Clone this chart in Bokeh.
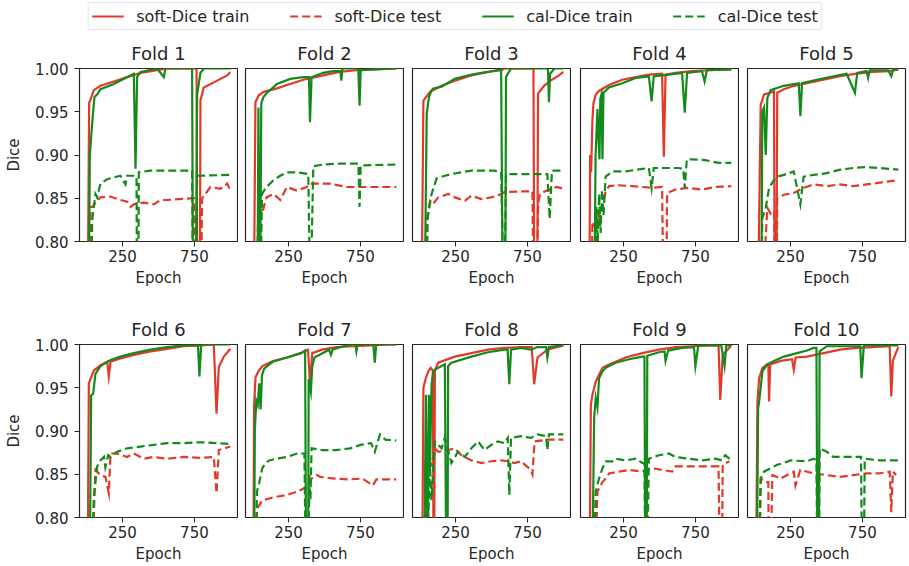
from bokeh.plotting import figure
from bokeh.layouts import row, column
from bokeh.models import Range1d, FixedTicker, NumeralTickFormatter, ColumnDataSource
from bokeh.embed import file_html
from bokeh.resources import INLINE

# ---------------- data (epoch, Dice) ----------------
series_names = ["soft-Dice train", "soft-Dice test", "cal-Dice train", "cal-Dice test"]
fold_titles = ["Fold 1", "Fold 2", "Fold 3", "Fold 4", "Fold 5",
               "Fold 6", "Fold 7", "Fold 8", "Fold 9", "Fold 10"]
x_ticks = [250, 750]
y_ticks = [0.80, 0.85, 0.90, 0.95, 1.00]

f1_soft_train = [(0, 0.55), (17, 0.96), (50, 0.975), (96, 0.98), (189, 0.985), (282, 0.99), (375, 0.995), (491, 0.998), (560, 1.0), (765, 1.0), (772, 0.6), (785, 0.6), (792, 0.963), (815, 0.978), (908, 0.986), (978, 0.992), (1000, 0.996)]
f1_soft_test = [(22, 0.7), (27, 0.84), (38, 0.84), (96, 0.851), (166, 0.852), (235, 0.848), (282, 0.846), (305, 0.84), (328, 0.843), (398, 0.845), (468, 0.843), (514, 0.848), (560, 0.848), (746, 0.85), (769, 0.7), (792, 0.7), (804, 0.85), (862, 0.863), (932, 0.861), (978, 0.867), (1000, 0.859)]
f1_cal_train = [(8, 0.6), (22, 0.90), (38, 0.936), (54, 0.967), (73, 0.97), (96, 0.976), (189, 0.982), (328, 0.994), (340, 0.884), (351, 0.99), (375, 0.996), (491, 1.0), (537, 0.99), (549, 1.0), (734, 1.0), (741, 0.7), (758, 0.7), (769, 0.97), (792, 0.995), (816, 1.0), (1000, 1.0)]
f1_cal_test = [(27, 0.7), (38, 0.824), (61, 0.855), (73, 0.851), (96, 0.867), (143, 0.872), (189, 0.874), (235, 0.876), (270, 0.866), (282, 0.876), (328, 0.876), (347, 0.875), (351, 0.7), (358, 0.7), (363, 0.88), (444, 0.882), (734, 0.882), (741, 0.7), (758, 0.7), (769, 0.876), (1000, 0.877)]

f2_soft_train = [(0, 0.55), (19, 0.961), (42, 0.969), (77, 0.973), (169, 0.977), (261, 0.982), (353, 0.987), (491, 0.992), (606, 0.996), (721, 0.998), (836, 0.999), (1000, 1.0)]
f2_soft_test = [(19, 0.7), (40, 0.84), (65, 0.832), (96, 0.851), (146, 0.855), (192, 0.848), (238, 0.863), (307, 0.859), (376, 0.863), (399, 0.867), (537, 0.867), (652, 0.863), (767, 0.863), (1000, 0.863)]
f2_cal_train = [(30, 0.6), (40, 0.955), (50, 0.7), (60, 0.96), (75, 0.967), (100, 0.972), (169, 0.982), (261, 0.988), (353, 0.99), (392, 0.99), (399, 0.938), (410, 0.99), (491, 0.995), (560, 0.997), (610, 0.997), (617, 0.986), (625, 1.0), (735, 1.0), (744, 0.957), (752, 0.998), (1000, 1.0)]
f2_cal_test = [(50, 0.7), (65, 0.855), (96, 0.863), (146, 0.871), (192, 0.876), (238, 0.88), (307, 0.88), (387, 0.878), (399, 0.75), (405, 0.75), (422, 0.887), (491, 0.889), (606, 0.89), (736, 0.89), (744, 0.84), (752, 0.888), (1000, 0.889)]

f3_soft_train = [(3, 0.55), (26, 0.963), (72, 0.973), (152, 0.98), (245, 0.986), (360, 0.992), (475, 0.996), (567, 0.998), (590, 1.0), (792, 1.0), (801, 0.6), (815, 0.6), (824, 0.971), (866, 0.98), (912, 0.986), (970, 0.992), (1000, 0.996)]
f3_soft_test = [(26, 0.7), (49, 0.824), (72, 0.847), (95, 0.844), (130, 0.851), (199, 0.855), (245, 0.851), (314, 0.847), (360, 0.853), (429, 0.849), (498, 0.851), (544, 0.853), (590, 0.857), (705, 0.858), (785, 0.858), (795, 0.7), (810, 0.7), (825, 0.844), (838, 0.855), (884, 0.859), (953, 0.863), (1000, 0.861)]
f3_cal_train = [(26, 0.6), (49, 0.948), (65, 0.967), (83, 0.975), (96, 0.977), (152, 0.979), (245, 0.988), (360, 0.993), (475, 0.996), (567, 0.999), (580, 0.7), (595, 0.7), (601, 0.99), (613, 0.994), (636, 1.0), (893, 1.0), (900, 0.961), (908, 0.994), (938, 1.0), (1000, 1.0)]
f3_cal_test = [(42, 0.7), (56, 0.828), (83, 0.855), (118, 0.873), (175, 0.876), (221, 0.878), (290, 0.88), (360, 0.882), (452, 0.882), (521, 0.882), (567, 0.88), (583, 0.75), (590, 0.75), (601, 0.878), (889, 0.878), (905, 0.826), (921, 0.882), (1000, 0.882)]

f4_soft_train = [(5, 0.55), (17, 0.90), (24, 0.88), (33, 0.94), (40, 0.96), (56, 0.97), (79, 0.974), (149, 0.981), (241, 0.987), (334, 0.99), (426, 0.993), (518, 0.994), (530, 0.898), (542, 0.993), (611, 0.995), (726, 0.997), (842, 0.998), (1000, 0.999)]
f4_soft_test = [(22, 0.7), (33, 0.823), (56, 0.815), (79, 0.826), (103, 0.843), (126, 0.858), (149, 0.864), (218, 0.865), (310, 0.864), (380, 0.863), (449, 0.862), (518, 0.863), (530, 0.7), (545, 0.7), (553, 0.856), (611, 0.86), (703, 0.862), (796, 0.86), (888, 0.863), (1000, 0.864)]
f4_cal_train = [(40, 0.6), (55, 0.90), (68, 0.953), (75, 0.92), (82, 0.895), (88, 0.965), (96, 0.97), (103, 0.895), (110, 0.972), (149, 0.978), (241, 0.983), (334, 0.989), (426, 0.991), (445, 0.962), (460, 0.991), (565, 0.993), (657, 0.995), (676, 0.949), (692, 0.995), (796, 0.997), (814, 0.985), (830, 0.998), (1000, 0.999)]
f4_cal_test = [(45, 0.7), (60, 0.84), (70, 0.80), (80, 0.855), (90, 0.81), (100, 0.86), (110, 0.83), (125, 0.875), (172, 0.881), (264, 0.881), (380, 0.884), (426, 0.885), (445, 0.862), (460, 0.885), (542, 0.885), (634, 0.885), (665, 0.884), (676, 0.862), (690, 0.895), (726, 0.895), (818, 0.894), (911, 0.891), (1000, 0.891)]

f5_soft_train = [(8, 0.55), (42, 0.958), (65, 0.97), (111, 0.972), (134, 0.974), (141, 0.7), (150, 0.7), (157, 0.972), (203, 0.976), (272, 0.98), (364, 0.983), (479, 0.987), (594, 0.991), (709, 0.994), (824, 0.996), (939, 0.997), (1000, 0.999)]
f5_soft_test = [(42, 0.7), (88, 0.839), (111, 0.832), (134, 0.835), (146, 0.7), (152, 0.7), (157, 0.85), (203, 0.854), (272, 0.856), (341, 0.862), (410, 0.866), (502, 0.864), (594, 0.866), (686, 0.864), (778, 0.866), (870, 0.868), (1000, 0.871)]
f5_cal_train = [(42, 0.6), (53, 0.95), (65, 0.955), (77, 0.9), (88, 0.966), (111, 0.975), (203, 0.98), (307, 0.983), (318, 0.945), (330, 0.983), (433, 0.987), (548, 0.991), (640, 0.994), (698, 0.972), (714, 0.995), (778, 0.997), (790, 0.989), (800, 0.998), (930, 0.998), (951, 0.991), (965, 0.999), (1000, 0.999)]
f5_cal_test = [(42, 0.7), (53, 0.827), (77, 0.839), (100, 0.862), (134, 0.871), (157, 0.875), (203, 0.877), (272, 0.881), (318, 0.843), (341, 0.875), (410, 0.877), (502, 0.879), (594, 0.883), (686, 0.885), (778, 0.886), (870, 0.885), (1000, 0.883)]

f6_soft_train = [(0, 0.55), (15, 0.955), (50, 0.97), (96, 0.976), (143, 0.98), (154, 0.963), (166, 0.98), (235, 0.984), (328, 0.988), (444, 0.992), (560, 0.995), (676, 0.998), (792, 0.999), (885, 1.0), (904, 0.92), (920, 0.974), (955, 0.986), (1000, 0.995)]
f6_soft_test = [(27, 0.7), (61, 0.855), (96, 0.849), (131, 0.847), (154, 0.828), (166, 0.874), (212, 0.874), (282, 0.87), (328, 0.874), (398, 0.868), (467, 0.87), (560, 0.868), (676, 0.87), (792, 0.869), (885, 0.87), (904, 0.828), (920, 0.878), (1000, 0.882)]
f6_cal_train = [(15, 0.6), (31, 0.941), (45, 0.943), (61, 0.966), (96, 0.975), (166, 0.982), (235, 0.986), (328, 0.99), (444, 0.994), (560, 0.997), (676, 0.999), (775, 0.999), (785, 0.963), (797, 0.999), (831, 1.0), (1000, 1.0)]
f6_cal_test = [(27, 0.7), (50, 0.824), (73, 0.859), (96, 0.866), (120, 0.87), (130, 0.858), (150, 0.872), (166, 0.87), (212, 0.876), (282, 0.88), (375, 0.882), (467, 0.884), (560, 0.886), (676, 0.886), (792, 0.887), (908, 0.886), (1000, 0.885)]

f7_soft_train = [(0, 0.55), (10, 0.93), (20, 0.962), (40, 0.969), (67, 0.975), (141, 0.981), (238, 0.985), (336, 0.99), (385, 0.994), (400, 0.954), (410, 0.98), (415, 0.99), (483, 0.994), (581, 0.997), (703, 0.998), (825, 0.999), (947, 1.0), (1000, 1.0)]
f7_soft_test = [(10, 0.7), (30, 0.81), (67, 0.82), (116, 0.822), (165, 0.824), (238, 0.826), (311, 0.83), (360, 0.834), (385, 0.835), (410, 0.845), (446, 0.849), (470, 0.847), (568, 0.845), (666, 0.844), (764, 0.845), (837, 0.837), (861, 0.844), (1000, 0.844)]
f7_cal_train = [(5, 0.6), (15, 0.90), (25, 0.935), (35, 0.93), (45, 0.955), (55, 0.925), (65, 0.965), (80, 0.972), (100, 0.975), (140, 0.98), (240, 0.985), (336, 0.99), (365, 0.993), (373, 0.7), (385, 0.7), (390, 0.96), (405, 0.945), (415, 0.975), (430, 0.985), (532, 0.994), (545, 0.988), (556, 0.994), (630, 0.998), (690, 1.0), (715, 1.0), (722, 0.992), (730, 1.0), (840, 1.0), (850, 0.979), (860, 1.0), (1000, 1.0)]
f7_cal_test = [(15, 0.7), (30, 0.83), (45, 0.84), (67, 0.857), (91, 0.863), (116, 0.866), (165, 0.868), (238, 0.87), (311, 0.874), (360, 0.874), (373, 0.7), (385, 0.7), (395, 0.85), (402, 0.82), (410, 0.88), (483, 0.878), (581, 0.878), (679, 0.88), (752, 0.884), (825, 0.886), (850, 0.876), (886, 0.896), (923, 0.89), (1000, 0.889)]

f8_soft_train = [(10, 0.55), (26, 0.95), (42, 0.961), (60, 0.969), (77, 0.973), (92, 0.97), (96, 0.75), (101, 0.75), (106, 0.97), (129, 0.979), (245, 0.986), (360, 0.99), (475, 0.994), (590, 0.996), (705, 0.997), (780, 0.997), (797, 0.954), (820, 0.985), (889, 0.994), (1000, 0.999)]
f8_soft_test = [(26, 0.7), (49, 0.865), (60, 0.867), (83, 0.861), (106, 0.88), (129, 0.876), (198, 0.878), (244, 0.88), (290, 0.872), (360, 0.866), (429, 0.863), (498, 0.865), (567, 0.866), (613, 0.865), (659, 0.863), (705, 0.865), (774, 0.855), (785, 0.85), (800, 0.888), (889, 0.89), (1000, 0.89)]
f8_cal_train = [(30, 0.6), (37, 0.845), (44, 0.942), (56, 0.75), (65, 0.942), (72, 0.857), (83, 0.954), (94, 0.969), (117, 0.972), (175, 0.977), (187, 0.7), (193, 0.7), (198, 0.975), (221, 0.979), (360, 0.986), (475, 0.991), (590, 0.994), (612, 0.994), (624, 0.954), (636, 0.994), (705, 0.996), (774, 0.994), (820, 0.997), (880, 0.997), (889, 0.985), (900, 0.997), (1000, 0.999)]
f8_cal_test = [(37, 0.7), (50, 0.85), (60, 0.80), (72, 0.86), (82, 0.82), (106, 0.888), (152, 0.88), (175, 0.892), (221, 0.863), (267, 0.876), (314, 0.87), (360, 0.88), (406, 0.888), (452, 0.878), (498, 0.884), (544, 0.888), (590, 0.886), (613, 0.892), (624, 0.826), (636, 0.892), (705, 0.894), (774, 0.892), (820, 0.896), (880, 0.894), (889, 0.878), (900, 0.896), (1000, 0.896)]

f9_soft_train = [(5, 0.55), (22, 0.93), (33, 0.942), (56, 0.957), (79, 0.965), (103, 0.973), (149, 0.977), (264, 0.985), (380, 0.99), (496, 0.994), (611, 0.997), (726, 0.998), (842, 0.999), (911, 0.999), (923, 0.936), (940, 0.988), (980, 0.995), (1000, 0.999)]
f9_soft_test = [(45, 0.7), (68, 0.83), (103, 0.841), (126, 0.845), (149, 0.851), (218, 0.853), (288, 0.855), (380, 0.853), (449, 0.857), (519, 0.855), (588, 0.853), (611, 0.859), (726, 0.859), (842, 0.859), (911, 0.859), (920, 0.75), (935, 0.75), (940, 0.861), (986, 0.865)]
f9_cal_train = [(22, 0.6), (45, 0.915), (56, 0.938), (68, 0.927), (79, 0.961), (103, 0.969), (126, 0.973), (195, 0.979), (288, 0.983), (380, 0.986), (395, 0.986), (403, 0.7), (410, 0.7), (415, 0.987), (496, 0.991), (535, 0.992), (542, 0.981), (560, 0.993), (657, 0.996), (740, 0.997), (750, 0.975), (770, 0.999), (930, 0.999), (953, 0.975), (965, 0.999), (1000, 0.999)]
f9_cal_test = [(33, 0.7), (56, 0.83), (79, 0.845), (103, 0.857), (126, 0.865), (172, 0.865), (195, 0.868), (264, 0.866), (334, 0.868), (380, 0.863), (395, 0.863), (403, 0.7), (410, 0.7), (426, 0.868), (496, 0.872), (565, 0.874), (611, 0.87), (703, 0.868), (796, 0.866), (888, 0.868), (935, 0.866), (958, 0.872), (1000, 0.866)]

f10_soft_train = [(1, 0.55), (19, 0.934), (31, 0.961), (54, 0.973), (88, 0.977), (95, 0.977), (100, 0.934), (108, 0.977), (180, 0.981), (260, 0.983), (272, 0.971), (285, 0.985), (364, 0.986), (479, 0.99), (594, 0.994), (709, 0.996), (824, 0.997), (940, 0.998), (951, 0.94), (962, 0.981), (992, 0.994), (1000, 0.997)]
f10_soft_test = [(31, 0.7), (42, 0.845), (77, 0.841), (95, 0.841), (100, 0.7), (106, 0.7), (123, 0.849), (180, 0.845), (272, 0.853), (284, 0.837), (318, 0.855), (410, 0.851), (502, 0.849), (594, 0.847), (686, 0.849), (778, 0.851), (870, 0.851), (940, 0.853), (951, 0.806), (962, 0.853), (985, 0.849)]
f10_cal_train = [(8, 0.6), (24, 0.926), (31, 0.934), (54, 0.969), (88, 0.977), (134, 0.981), (203, 0.986), (295, 0.99), (364, 0.993), (410, 0.996), (430, 0.996), (438, 0.7), (446, 0.7), (452, 0.992), (502, 0.998), (571, 0.998), (735, 0.998), (744, 0.961), (760, 0.999), (1000, 0.999)]
f10_cal_test = [(19, 0.7), (42, 0.845), (65, 0.853), (111, 0.857), (157, 0.861), (203, 0.863), (249, 0.866), (364, 0.865), (410, 0.868), (430, 0.866), (438, 0.7), (446, 0.7), (452, 0.88), (502, 0.876), (548, 0.87), (640, 0.87), (740, 0.87), (751, 0.7), (758, 0.7), (766, 0.868), (870, 0.866), (1000, 0.866)]

folds = [
    (f1_soft_train, f1_soft_test, f1_cal_train, f1_cal_test),
    (f2_soft_train, f2_soft_test, f2_cal_train, f2_cal_test),
    (f3_soft_train, f3_soft_test, f3_cal_train, f3_cal_test),
    (f4_soft_train, f4_soft_test, f4_cal_train, f4_cal_test),
    (f5_soft_train, f5_soft_test, f5_cal_train, f5_cal_test),
    (f6_soft_train, f6_soft_test, f6_cal_train, f6_cal_test),
    (f7_soft_train, f7_soft_test, f7_cal_train, f7_cal_test),
    (f8_soft_train, f8_soft_test, f8_cal_train, f8_cal_test),
    (f9_soft_train, f9_soft_test, f9_cal_train, f9_cal_test),
    (f10_soft_train, f10_soft_test, f10_cal_train, f10_cal_test),
]

# ---------------- styling ----------------
RED = "#e3392b"
GREEN = "#138a1a"
colors = [RED, RED, GREEN, GREEN]
dashes = ["solid", "8 4", "solid", "8 4"]
FONT = "DejaVu Sans"
TXT = "#262626"

# whole layout: 909 wide, 565 tall
frame_w, frame_h = 158, 173
left_borders = [79, 7, 8, 9, 8]
right_borders = [1, 1, 1, 1, 4]
row_top = [38, 53]
row_bottom = [50, 48]


def make_panel(idx):
    r, c = divmod(idx, 5)
    p = figure(frame_width=frame_w, frame_height=frame_h,
               x_range=Range1d(-50, 1050), y_range=Range1d(0.8, 1.0),
               output_backend="svg", toolbar_location=None, title=fold_titles[idx],
               min_border_left=left_borders[c], min_border_right=right_borders[c],
               min_border_top=row_top[r], min_border_bottom=row_bottom[r])
    p.title.align = "center"
    p.title.text_font = FONT
    p.title.text_font_size = "18px"
    p.title.text_font_style = "normal"
    p.title.text_color = TXT
    p.title.standoff = 9
    p.grid.visible = False
    p.outline_line_color = TXT
    p.outline_line_width = 1.2
    p.background_fill_color = "white"
    p.border_fill_color = "white"

    for s, col, dash in zip(folds[idx], colors, dashes):
        src = ColumnDataSource(dict(epoch=[e for e, _ in s], dice=[v for _, v in s]))
        p.line("epoch", "dice", source=src, line_color=col, line_width=2.2,
               line_dash=dash, line_join="miter")

    for ax in (p.xaxis, p.yaxis):
        ax.axis_line_color = None
        ax.major_tick_line_color = TXT
        ax.major_tick_out = 5
        ax.major_tick_in = 0
        ax.minor_tick_line_color = None
        ax.major_label_text_font = FONT
        ax.major_label_text_font_size = "15px"
        ax.major_label_text_color = TXT
        ax.axis_label_text_font = FONT
        ax.axis_label_text_font_size = "15px"
        ax.axis_label_text_font_style = "normal"
        ax.axis_label_text_color = TXT
    p.xaxis.ticker = FixedTicker(ticks=x_ticks)
    p.xaxis.major_label_standoff = 3
    p.xaxis.axis_label = "Epoch"
    p.xaxis.axis_label_standoff = 4
    p.yaxis.ticker = FixedTicker(ticks=y_ticks)
    p.yaxis.formatter = NumeralTickFormatter(format="0.00")
    p.yaxis.major_label_standoff = 6
    if c == 0:
        p.yaxis.axis_label = "Dice"
        p.yaxis.axis_label_standoff = 9
    else:
        p.yaxis.visible = False
    return p


panels = [make_panel(i) for i in range(10)]

# legend strip: the fold-1 series are attached, but this strip's ranges show none of them
lg = figure(width=909, height=30, x_range=Range1d(5000, 5001), y_range=Range1d(5, 6),
            output_backend="svg", toolbar_location=None,
            min_border=0, min_border_left=0, min_border_right=0,
            min_border_top=0, min_border_bottom=0)
lg.axis.visible = False
lg.grid.visible = False
lg.outline_line_color = None
for name, s, col, dash in zip(series_names, folds[0], colors, dashes):
    lg.line(x=[e for e, _ in s], y=[v for _, v in s], line_color=col, line_width=2.2,
            line_dash=dash, legend_label=name)
leg = lg.legend[0]
leg.location = "top_center"
leg.orientation = "horizontal"
leg.margin = 2
leg.padding = 3
leg.spacing = 40
leg.glyph_width = 32
leg.label_standoff = 13
leg.label_text_font = FONT
leg.label_text_font_size = "16px"
leg.label_text_color = TXT
leg.border_line_color = "#cccccc"
leg.border_line_width = 1
leg.background_fill_alpha = 1.0

layout = column(lg, row(*panels[:5]), row(*panels[5:]))

open("out.html", "w").write(file_html(layout, INLINE))
